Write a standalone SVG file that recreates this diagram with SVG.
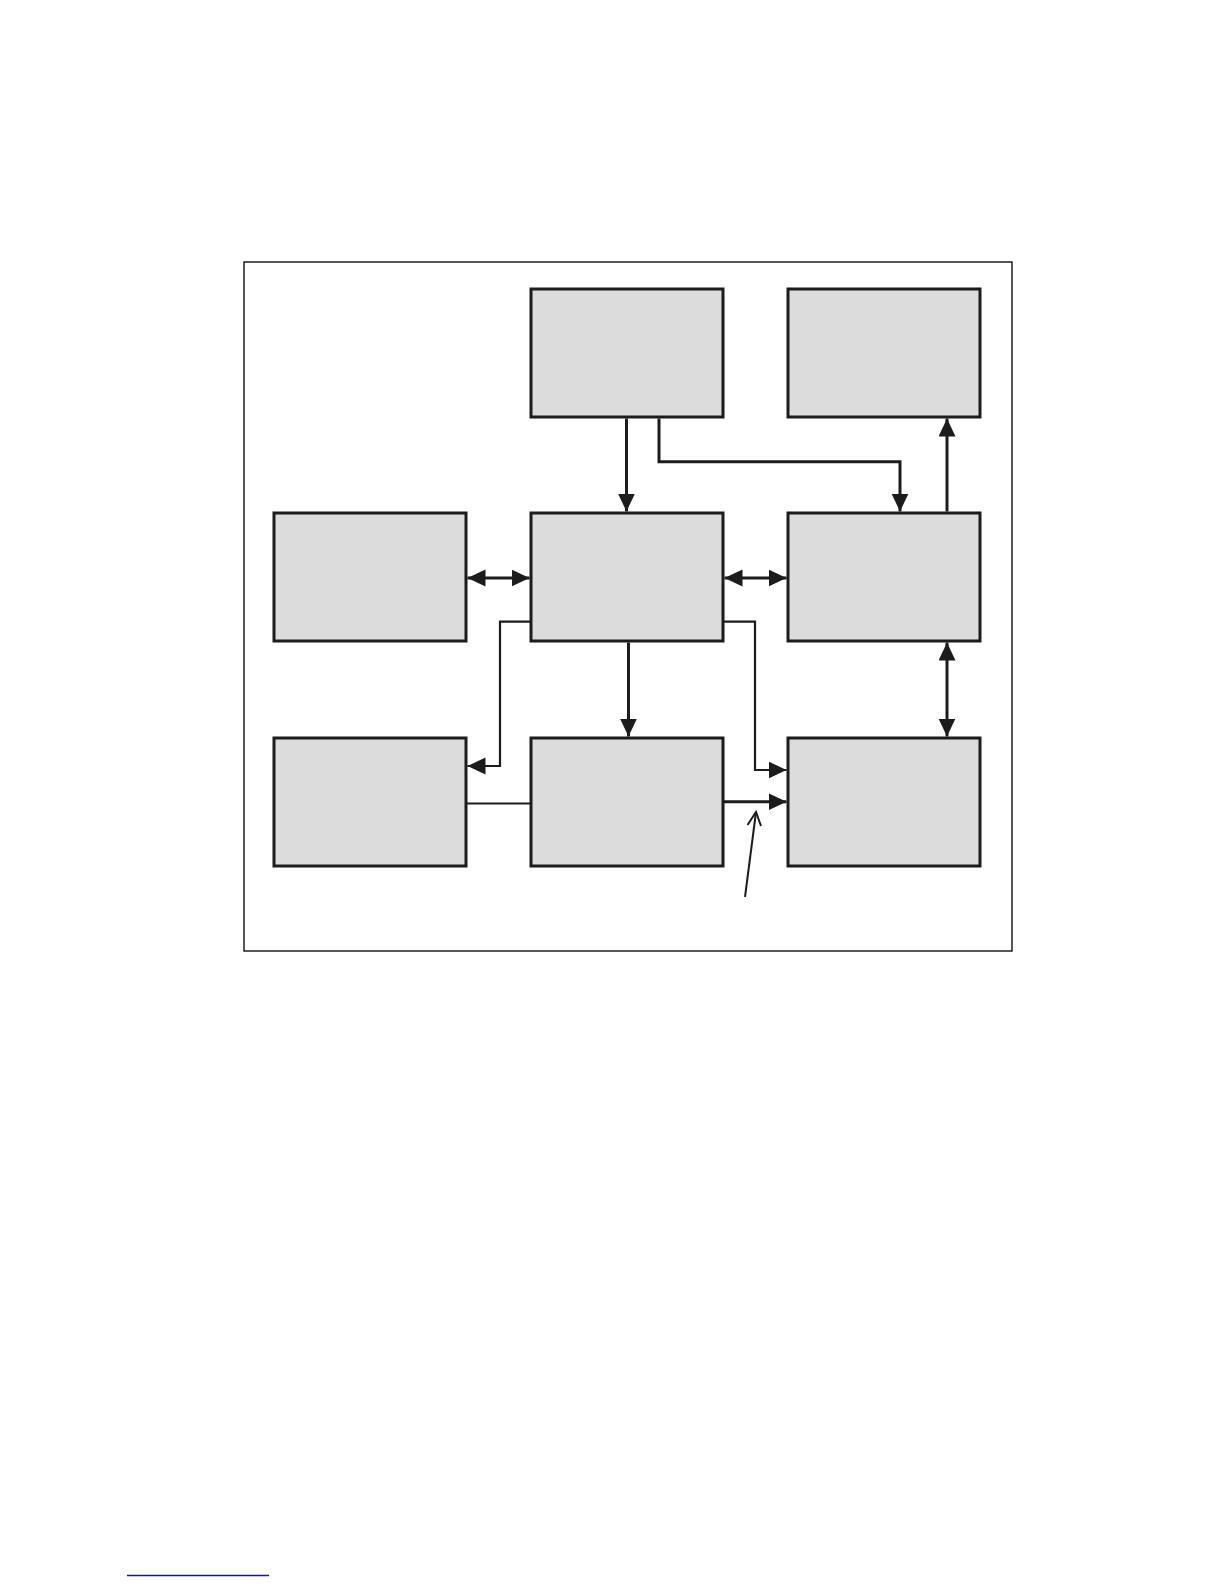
<svg xmlns="http://www.w3.org/2000/svg" width="1224" height="1584" viewBox="0 0 1224 1584">
  <style>
    .box { fill: #dcdcdc; stroke: #1c1c1c; stroke-width: 3; }
    .conn { fill: none; stroke: #1c1c1c; stroke-width: 3; }
    .thin { fill: none; stroke: #1c1c1c; stroke-width: 2.2; }
    .ptr { fill: none; stroke: #1c1c1c; stroke-width: 2; }
  </style>
  <defs>
    <marker id="ah" markerUnits="userSpaceOnUse" markerWidth="19" markerHeight="18" refX="18" refY="8.5" orient="auto-start-reverse">
      <path d="M0,0 L18,8.5 L0,17 z" fill="#1c1c1c"/>
    </marker>
  </defs>
  <rect x="0" y="0" width="1224" height="1584" fill="#ffffff"/>
  <rect id="frame" x="244" y="262" width="768" height="689" fill="none" stroke="#111111" stroke-width="1.4"/>

  <g id="node-top-mid"><rect class="box" x="531" y="289" width="192" height="128"/></g>
  <g id="node-top-right"><rect class="box" x="788" y="289" width="192" height="128"/></g>
  <g id="node-mid-left"><rect class="box" x="274" y="513" width="192" height="128"/></g>
  <g id="node-mid-mid"><rect class="box" x="531" y="513" width="192" height="128"/></g>
  <g id="node-mid-right"><rect class="box" x="788" y="513" width="192" height="128"/></g>
  <g id="node-bot-left"><rect class="box" x="274" y="738" width="192" height="128"/></g>
  <g id="node-bot-mid"><rect class="box" x="531" y="738" width="192" height="128"/></g>
  <g id="node-bot-right"><rect class="box" x="788" y="738" width="192" height="128"/></g>

  <g id="connectors">
    <path class="conn" d="M626.5,418.5 L626.5,511.5" marker-end="url(#ah)"/>
    <path class="conn" d="M659,418.5 L659,461.7 L900,461.7 L900,511.5" marker-end="url(#ah)"/>
    <path class="conn" d="M947,511.5 L947,418.5" marker-end="url(#ah)"/>
    <path class="conn" d="M467.5,578 L529.5,578" marker-start="url(#ah)" marker-end="url(#ah)"/>
    <path class="conn" d="M724.5,578 L786.5,578" marker-start="url(#ah)" marker-end="url(#ah)"/>
    <path class="conn" d="M947,642.5 L947,736.5" marker-start="url(#ah)" marker-end="url(#ah)"/>
    <path class="thin" d="M531,621.6 L500,621.6 L500,766 L467.5,766" marker-end="url(#ah)"/>
    <path class="thin" d="M723,621.6 L755,621.6 L755,770 L786.5,770" marker-end="url(#ah)"/>
    <path class="conn" d="M628.5,642.5 L628.5,736.5" marker-end="url(#ah)"/>
    <path class="thin" d="M467,803.5 L531,803.5"/>
    <path class="conn" d="M723,801.8 L786.5,801.8" marker-end="url(#ah)"/>
    <path class="ptr" d="M745,897 L756,812"/>
    <path class="ptr" d="M747.5,825 L756,812 L761,826"/>
  </g>

  <line x1="127" y1="1575.5" x2="269" y2="1575.5" stroke="#1414a0" stroke-width="1.6"/>
</svg>
